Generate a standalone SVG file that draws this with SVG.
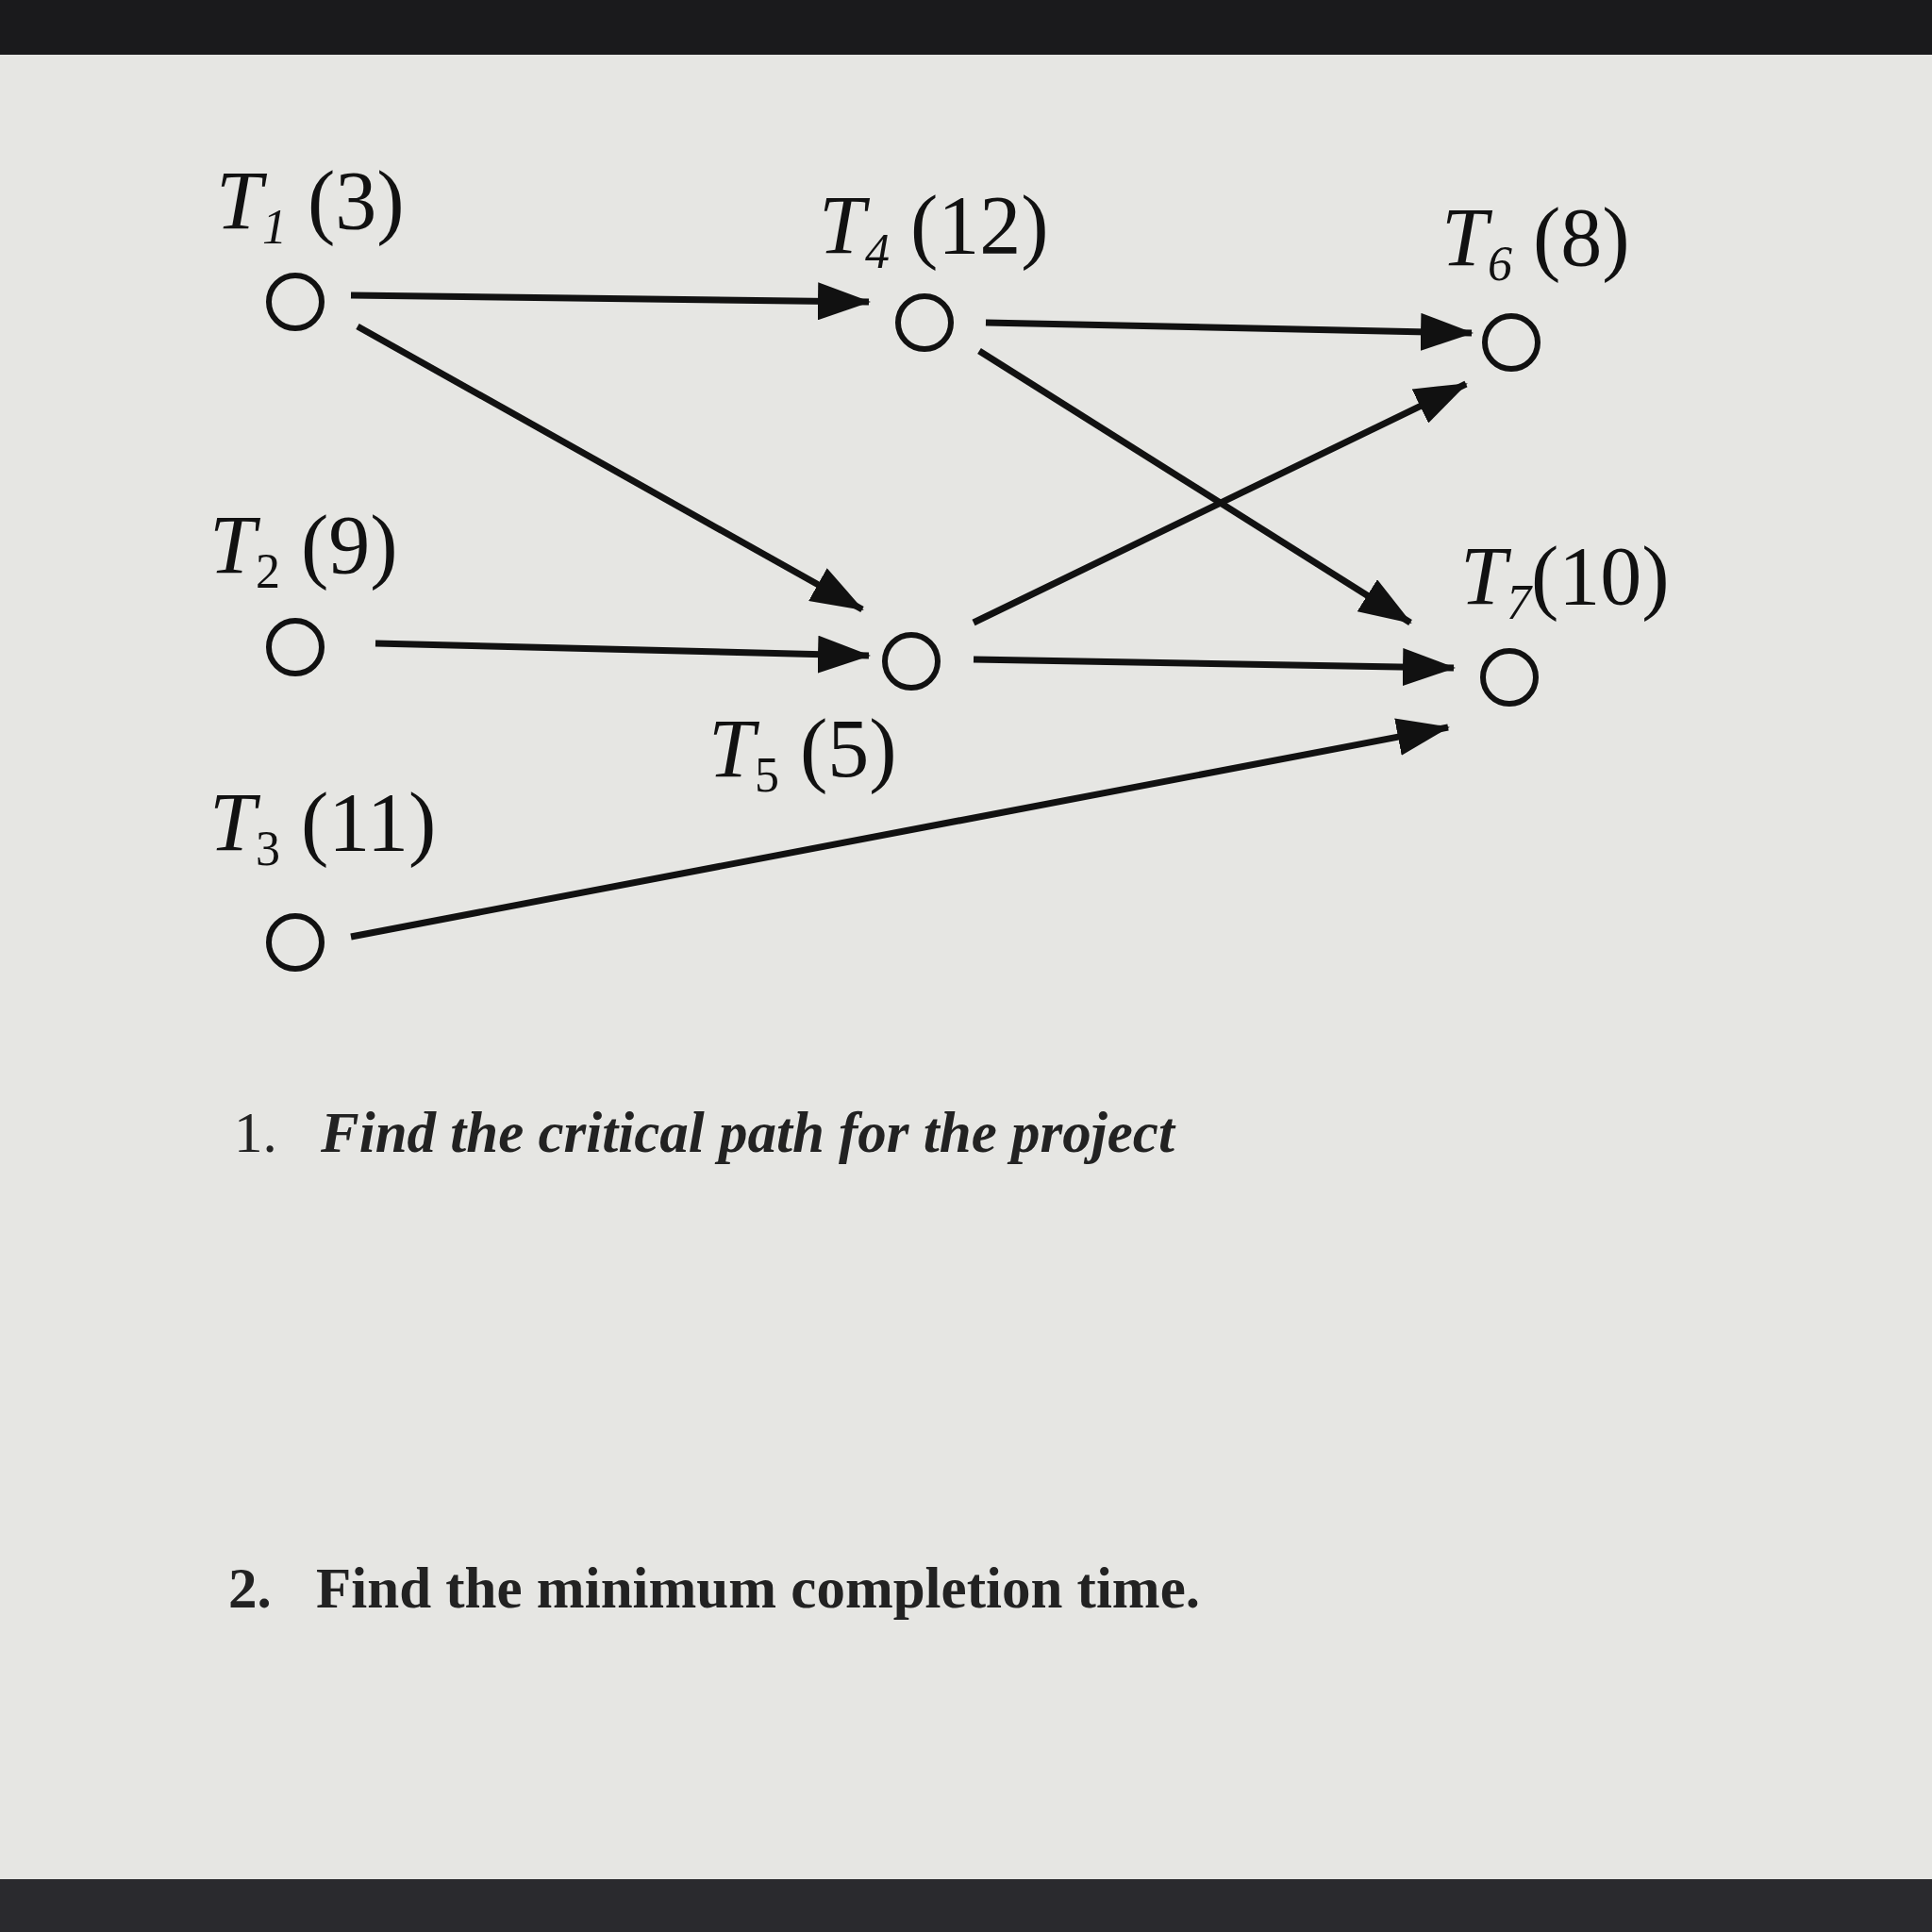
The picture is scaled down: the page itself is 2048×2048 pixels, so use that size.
<svg xmlns="http://www.w3.org/2000/svg" width="2048" height="2048" viewBox="0 0 2048 2048">
<style>
.n{fill:none;stroke:#111;stroke-width:6}
.e{stroke:#111;stroke-width:7;fill:none}
.l{font-family:"Liberation Serif",serif;font-size:88px;fill:#111}
.q{font-family:"Liberation Serif",serif;font-size:61px;font-weight:bold;fill:#222}
</style>
<defs><marker id="a" markerUnits="userSpaceOnUse" markerWidth="56" markerHeight="40" refX="54" refY="20" orient="auto"><path d="M0,0 L56,20 L0,40 Z" fill="#111"/></marker></defs>
<rect width="2048" height="2048" fill="#e6e6e3"/>
<rect width="2048" height="58" fill="#1a1a1c"/>
<rect y="1992" width="2048" height="56" fill="#2a2a2e"/>
<g id="connectors">
<line class="e" x1="372" y1="313" x2="921" y2="320" marker-end="url(#a)"/>
<line class="e" x1="379" y1="346" x2="914" y2="646" marker-end="url(#a)"/>
<line class="e" x1="1045" y1="342" x2="1560" y2="353" marker-end="url(#a)"/>
<line class="e" x1="1038" y1="372" x2="1495" y2="660" marker-end="url(#a)"/>
<line class="e" x1="398" y1="682" x2="921" y2="695" marker-end="url(#a)"/>
<line class="e" x1="1032" y1="660" x2="1554" y2="407" marker-end="url(#a)"/>
<line class="e" x1="1032" y1="699" x2="1541" y2="708" marker-end="url(#a)"/>
<line class="e" x1="372" y1="993" x2="1535" y2="771" marker-end="url(#a)"/>
</g>
<g id="T1"><circle class="n" cx="313" cy="320" r="28"/><text class="l" x="229" y="242"><tspan font-style="italic">T</tspan><tspan font-style="italic" font-size="52" dy="16">1</tspan><tspan dy="-16"> (3)</tspan></text></g>
<g id="T4"><circle class="n" cx="980" cy="342" r="28"/><text class="l" x="868" y="268"><tspan font-style="italic">T</tspan><tspan font-style="italic" font-size="52" dy="16">4</tspan><tspan dy="-16"> (12)</tspan></text></g>
<g id="T6"><circle class="n" cx="1602" cy="363" r="28"/><text class="l" x="1528" y="281"><tspan font-style="italic">T</tspan><tspan font-style="italic" font-size="52" dy="16">6</tspan><tspan dy="-16"> (8)</tspan></text></g>
<g id="T2"><circle class="n" cx="313" cy="686" r="28"/><text class="l" x="222" y="607"><tspan font-style="italic">T</tspan><tspan font-size="52" dy="16">2</tspan><tspan dy="-16"> (9)</tspan></text></g>
<g id="T5"><circle class="n" cx="966" cy="701" r="28"/><text class="l" x="751" y="823"><tspan font-style="italic">T</tspan><tspan font-size="52" dy="16">5</tspan><tspan dy="-16"> (5)</tspan></text></g>
<g id="T7"><circle class="n" cx="1600" cy="718" r="28"/><text class="l" x="1548" y="640"><tspan font-style="italic">T</tspan><tspan font-style="italic" font-size="52" dy="16">7</tspan><tspan dy="-16">(10)</tspan></text></g>
<g id="T3"><circle class="n" cx="313" cy="999" r="28"/><text class="l" x="222" y="901"><tspan font-style="italic">T</tspan><tspan font-size="52" dy="16">3</tspan><tspan dy="-16"> (11)</tspan></text></g>
<text class="q" x="248" y="1221"><tspan font-weight="normal">1.</tspan><tspan x="340" font-style="italic">Find the critical path for the project</tspan></text>
<text class="q" x="242" y="1704">2.<tspan x="335">Find the minimum completion time.</tspan></text>
</svg>
